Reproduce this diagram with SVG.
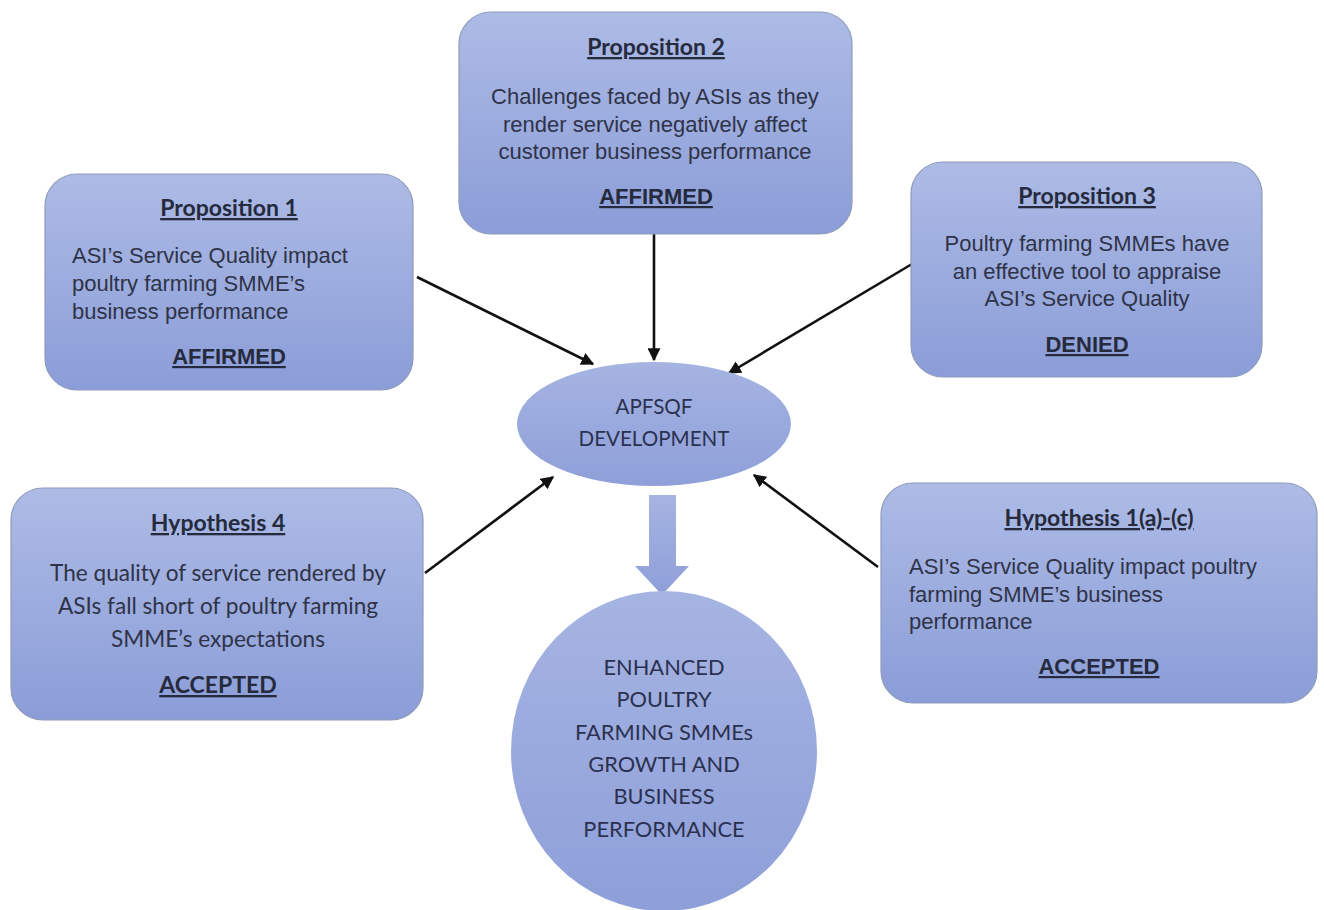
<svg xmlns="http://www.w3.org/2000/svg" width="1324" height="910" viewBox="0 0 1324 910">
  <defs>
    <linearGradient id="boxFill" x1="0" y1="0" x2="0" y2="1">
      <stop offset="0" stop-color="#adbbe5"/>
      <stop offset="1" stop-color="#8b9dd8"/>
    </linearGradient>
    <linearGradient id="shapeFill" x1="0" y1="0" x2="0" y2="1">
      <stop offset="0" stop-color="#a6b4e2"/>
      <stop offset="1" stop-color="#8e9fd9"/>
    </linearGradient>
    <marker id="head" viewBox="0 0 10 10" refX="9" refY="5" markerWidth="5" markerHeight="5" orient="auto" markerUnits="strokeWidth">
      <path d="M0,0 L10,5 L0,10 z" fill="#111"/>
    </marker>
  </defs>
  <style>
    .box { fill: url(#boxFill); stroke: #8f9bbd; stroke-width: 1.2; }
    .shape { fill: url(#shapeFill); stroke: none; }
    .title { font-family: Lato, "Open Sans", sans-serif; font-weight: bold; font-size: 23px; fill: #252a3d; text-anchor: middle; text-decoration: underline; }
    .status { font-family: "Liberation Sans", Arial, sans-serif; font-weight: bold; font-size: 22px; fill: #252a3d; text-anchor: middle; text-decoration: underline; }
    .body { font-family: "Liberation Sans", Arial, sans-serif; font-size: 22px; fill: #2e3348; }
    .bodyc { font-family: Lato, "Open Sans", sans-serif; font-size: 22.6px; fill: #2e3348; text-anchor: middle; }
    .mid { text-anchor: middle; }
    .cap { font-family: Lato, "Open Sans", sans-serif; font-size: 21.8px; fill: #2a3150; text-anchor: middle; }
    .capsm { font-size: 20.6px; }
    .link { stroke: #111; stroke-width: 2.6; fill: none; marker-end: url(#head); }
  </style>

  <rect width="1324" height="910" fill="#ffffff"/>

  <!-- connectors -->
  <g id="connectors">
    <line class="link" x1="417" y1="277" x2="593" y2="364"/>
    <line class="link" x1="654" y1="232" x2="654" y2="360"/>
    <line class="link" x1="912" y1="264" x2="729" y2="373"/>
    <line class="link" x1="425" y1="573" x2="553" y2="477"/>
    <line class="link" x1="878" y1="567" x2="754" y2="475"/>
    <!-- block arrow from the framework down to the outcome -->
    <path class="shape" d="M649,495 L676,495 L676,566 L689,566 L662,595 L635,566 L649,566 Z"/>
  </g>

  <g id="proposition1">
    <rect class="box" x="45" y="174" width="368" height="216" rx="32" ry="32"/>
    <text class="title" x="229" y="216">Proposition 1</text>
    <text class="body" x="72" y="263">ASI’s Service Quality impact</text>
    <text class="body" x="72" y="291">poultry farming SMME’s</text>
    <text class="body" x="72" y="319">business performance</text>
    <text class="status" x="229" y="364">AFFIRMED</text>
  </g>

  <g id="proposition2">
    <rect class="box" x="459" y="12" width="393" height="222" rx="32" ry="32"/>
    <text class="title" x="656" y="55">Proposition 2</text>
    <text class="body mid" x="655" y="104">Challenges faced by ASIs as they</text>
    <text class="body mid" x="655" y="132">render service negatively affect</text>
    <text class="body mid" x="655" y="159">customer business performance</text>
    <text class="status" x="656" y="204">AFFIRMED</text>
  </g>

  <g id="proposition3">
    <rect class="box" x="911" y="162" width="351" height="215" rx="32" ry="32"/>
    <text class="title" x="1087" y="204">Proposition 3</text>
    <text class="body mid" x="1087" y="251">Poultry farming SMMEs have</text>
    <text class="body mid" x="1087" y="279">an effective tool to appraise</text>
    <text class="body mid" x="1087" y="306">ASI’s Service Quality</text>
    <text class="status" x="1087" y="352">DENIED</text>
  </g>

  <g id="hypothesis4">
    <rect class="box" x="11" y="488" width="412" height="232" rx="32" ry="32"/>
    <text class="title" x="218" y="531">Hypothesis 4</text>
    <text class="bodyc" x="218" y="581">The quality of service rendered by</text>
    <text class="bodyc" x="218" y="614">ASIs fall short of poultry farming</text>
    <text class="bodyc" x="218" y="647">SMME’s expectations</text>
    <text class="title" x="218" y="693">ACCEPTED</text>
  </g>

  <g id="hypothesis1">
    <rect class="box" x="881" y="483" width="436" height="220" rx="32" ry="32"/>
    <text class="title" x="1099" y="526">Hypothesis 1(a)-(c)</text>
    <text class="body" x="909" y="574">ASI’s Service Quality impact poultry</text>
    <text class="body" x="909" y="602">farming SMME’s business</text>
    <text class="body" x="909" y="629">performance</text>
    <text class="status" x="1099" y="674">ACCEPTED</text>
  </g>

  <g id="apfsqf">
    <ellipse class="shape" cx="654" cy="424" rx="137" ry="62"/>
    <text class="cap capsm" x="654" y="414">APFSQF</text>
    <text class="cap capsm" x="654" y="446">DEVELOPMENT</text>
  </g>

  <g id="outcome">
    <ellipse class="shape" cx="664" cy="751" rx="153" ry="160"/>
    <text class="cap" x="664" y="675">ENHANCED</text>
    <text class="cap" x="664" y="707">POULTRY</text>
    <text class="cap" x="664" y="740">FARMING SMMEs</text>
    <text class="cap" x="664" y="772">GROWTH AND</text>
    <text class="cap" x="664" y="804">BUSINESS</text>
    <text class="cap" x="664" y="837">PERFORMANCE</text>
  </g>
</svg>
